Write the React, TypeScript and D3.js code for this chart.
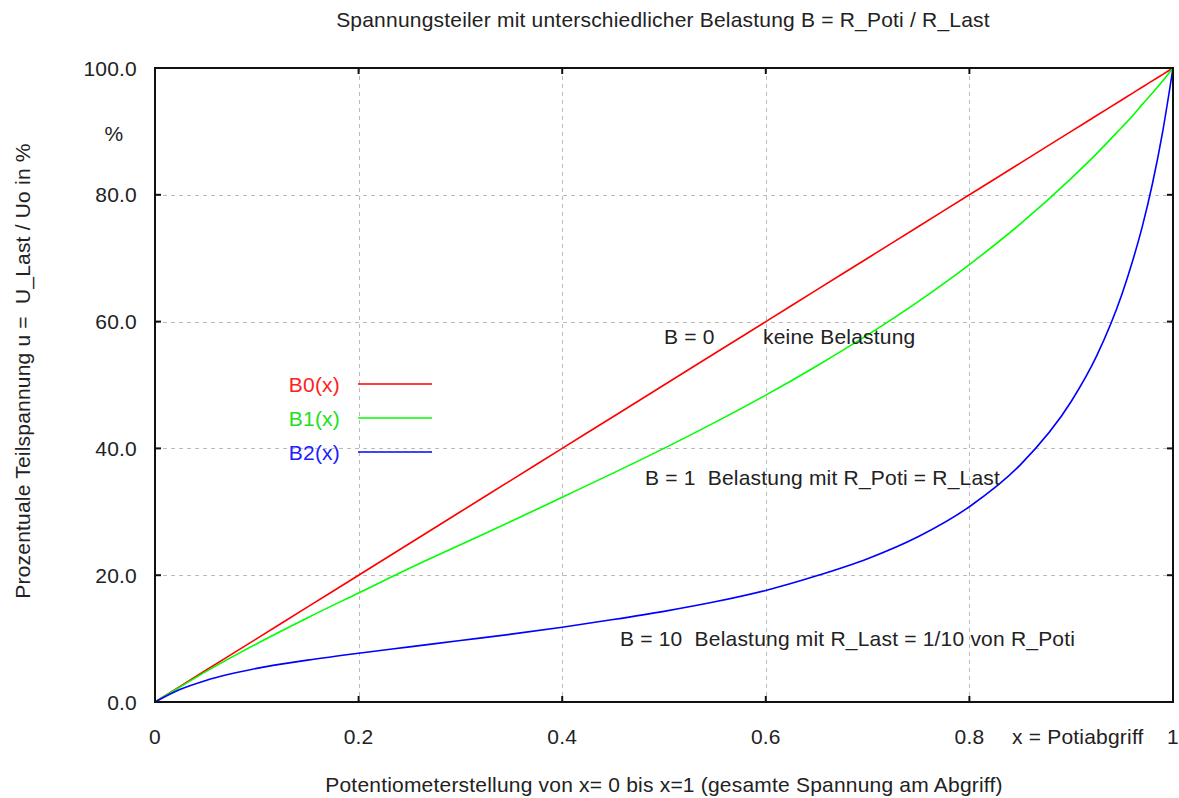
import * as d3 from 'd3'
import React, { useEffect, useRef } from 'react'

// Potentiometer position x (0..1)
const xValues = [0, 0.025, 0.05, 0.1, 0.15, 0.2, 0.25, 0.3, 0.35, 0.4, 0.45, 0.5, 0.55, 0.6, 0.65, 0.7, 0.75, 0.8, 0.85, 0.9, 0.925, 0.95, 0.96, 0.97, 0.98, 0.99, 1]
// u in % for B = 0, 1, 10
const b0Values = [0, 2.5, 5, 10, 15, 20, 25, 30, 35, 40, 45, 50, 55, 60, 65, 70, 75, 80, 85, 90, 92.5, 95, 96, 97, 98, 99, 100]
const b1Values = [0, 2.4, 4.8, 9.2, 13.3, 17.2, 21.1, 24.8, 28.5, 32.3, 36.1, 40.0, 44.1, 48.4, 53.0, 57.9, 63.2, 69.0, 75.4, 82.6, 86.5, 90.7, 92.4, 94.3, 96.1, 98.0, 100]
const b2Values = [0, 2.0, 3.4, 5.3, 6.6, 7.7, 8.7, 9.7, 10.7, 11.8, 13.0, 14.3, 15.8, 17.6, 19.9, 22.6, 26.1, 30.8, 37.4, 47.4, 54.6, 64.4, 69.4, 75.1, 81.9, 90.1, 100]

const seriesNames = ['B0(x)', 'B1(x)', 'B2(x)']
const seriesColors = ['#ff0000', '#00ff00', '#0000ff']
const legendColors = ['#ff2020', '#20e020', '#2020ff']

const xTicks = [0, 0.2, 0.4, 0.6, 0.8, 1]
const yTicks = [0, 20, 40, 60, 80, 100]

const W = 1179
const H = 798
const margin = { top: 68, right: 6, bottom: 96, left: 155 }
const font = '"Liberation Sans", Arial, sans-serif'
const textColor = '#222'

const App = () => {
    const ref = useRef<SVGSVGElement>(null)

    useEffect(() => {
        const svg = d3.select(ref.current)
        svg.selectAll('*').remove()

        const x = d3.scaleLinear().domain([0, 1]).range([margin.left, W - margin.right])
        const y = d3.scaleLinear().domain([0, 100]).range([H - margin.bottom, margin.top])

        svg.append('rect').attr('width', W).attr('height', H).attr('fill', '#fff')

        // Grid
        const grid = svg.append('g')
            .attr('stroke', '#bbb')
            .attr('stroke-width', 1)
            .attr('stroke-dasharray', '4,4')
        grid.selectAll('.gx')
            .data(xTicks.slice(1, -1))
            .enter()
            .append('line')
            .attr('x1', d => Math.round(x(d)) + 0.5)
            .attr('x2', d => Math.round(x(d)) + 0.5)
            .attr('y1', y(100))
            .attr('y2', y(0))
        grid.selectAll('.gy')
            .data(yTicks.slice(1, -1))
            .enter()
            .append('line')
            .attr('y1', d => Math.round(y(d)) + 0.5)
            .attr('y2', d => Math.round(y(d)) + 0.5)
            .attr('x1', x(0))
            .attr('x2', x(1))

        // Curves
        const line = d3.line<number>()
            .x((_, i) => x(xValues[i]))
            .y(d => y(d))
            .curve(d3.curveMonotoneX)
        const allSeries = [b0Values, b1Values, b2Values]
        svg.append('g')
            .selectAll('path')
            .data(allSeries)
            .enter()
            .append('path')
            .attr('d', d => line(d))
            .attr('fill', 'none')
            .attr('stroke', (_, i) => seriesColors[i])
            .attr('stroke-width', 1.6)

        // Frame + ticks
        svg.append('rect')
            .attr('x', x(0))
            .attr('y', y(100))
            .attr('width', x(1) - x(0))
            .attr('height', y(0) - y(100))
            .attr('fill', 'none')
            .attr('stroke', '#111')
            .attr('stroke-width', 2)
        const ticks = svg.append('g').attr('stroke', '#111').attr('stroke-width', 2)
        xTicks.slice(1, -1).forEach(t => {
            ticks.append('line').attr('x1', x(t)).attr('x2', x(t)).attr('y1', y(0)).attr('y2', y(0) - 6)
            ticks.append('line').attr('x1', x(t)).attr('x2', x(t)).attr('y1', y(100)).attr('y2', y(100) + 6)
        })
        yTicks.slice(1, -1).forEach(t => {
            ticks.append('line').attr('y1', y(t)).attr('y2', y(t)).attr('x1', x(0)).attr('x2', x(0) + 6)
            ticks.append('line').attr('y1', y(t)).attr('y2', y(t)).attr('x1', x(1)).attr('x2', x(1) - 6)
        })

        const txt = (tx: number, ty: number, s: string, anchor = 'start', color = textColor) =>
            svg.append('text')
                .attr('x', tx)
                .attr('y', ty)
                .attr('text-anchor', anchor)
                .attr('dominant-baseline', 'central')
                .attr('fill', color)
                .style('font-family', font)
                .style('font-size', '21px')
                .style('letter-spacing', '0.2px')
                .style('white-space', 'pre')
                .text(s)

        // Tick labels
        yTicks.forEach(t => txt(x(0) - 18, y(t), d3.format('.1f')(t), 'end'))
        xTicks.forEach(t => txt(x(t), H - margin.bottom + 34, t === 0 || t === 1 ? String(t) : d3.format('.1f')(t), 'middle'))

        // Titles
        txt(663, 19, 'Spannungsteiler mit unterschiedlicher Belastung B = R_Poti / R_Last', 'middle')
        txt(664, 784, 'Potentiometerstellung von x= 0 bis x=1 (gesamte Spannung am Abgriff)', 'middle')
        txt(1012, H - margin.bottom + 34, 'x = Potiabgriff')
        txt(114, 133, '%', 'middle')
        txt(0, 0, 'Prozentuale Teilspannung u =  U_Last / Uo in %', 'middle')
            .attr('transform', 'translate(22,371) rotate(-90)')

        // Annotations
        txt(664, 336, 'B = 0')
        txt(763, 336, 'keine Belastung')
        txt(645, 477, 'B = 1  Belastung mit R_Poti = R_Last')
        txt(620, 638, 'B = 10  Belastung mit R_Last = 1/10 von R_Poti')

        // Legend
        seriesNames.forEach((n, i) => {
            const ly = 384 + i * 34
            txt(340, ly, n, 'end', legendColors[i])
            svg.append('line')
                .attr('x1', 358)
                .attr('x2', 432)
                .attr('y1', ly)
                .attr('y2', ly)
                .attr('stroke', seriesColors[i])
                .attr('stroke-width', 1.6)
        })
    }, [])

    return (
        <svg
            ref={ref}
            width={W}
            height={H}
            style={{ position: 'absolute', left: 0, top: 0, display: 'block' }}
        />
    )
}

export default App
